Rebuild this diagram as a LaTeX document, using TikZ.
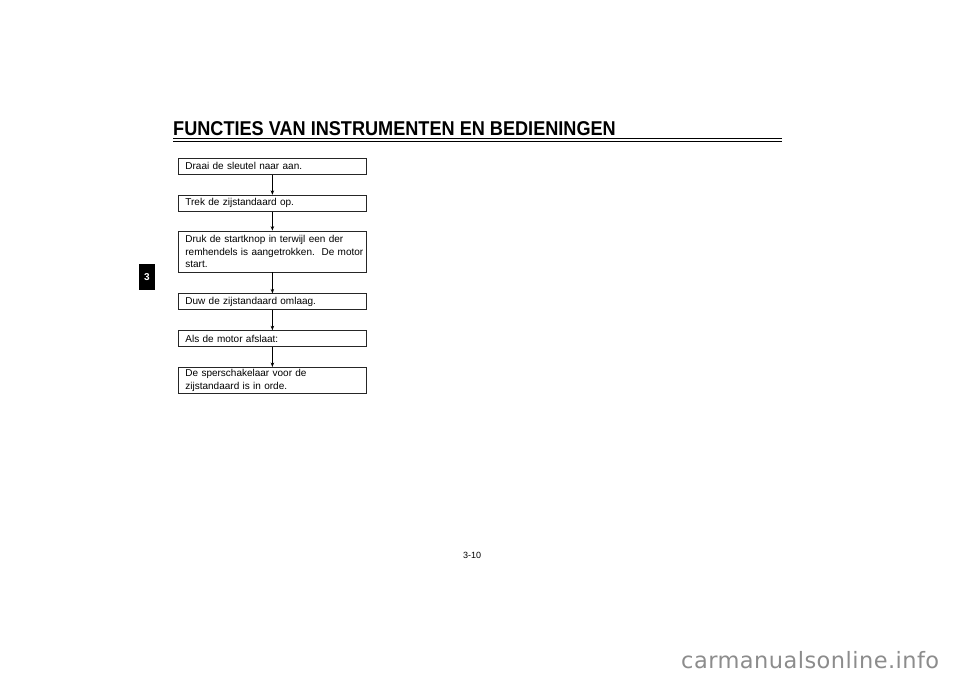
\documentclass[tikz,border=0pt]{standalone}
\usepackage{fontspec}
\setmainfont{Liberation Sans}
\newfontfamily\kopfont[FakeStretch=0.906]{Liberation Sans}
\newfontfamily\merkfont[LetterSpace=2]{DejaVu Sans}
\usetikzlibrary{positioning,arrows.meta}

\tikzset{
  stap/.style={draw=black!85, line width=0.8pt, minimum width=188pt, text width=174pt,
    inner xsep=7pt, inner ysep=1pt, align=left, font=\fontsize{10}{12.5}\selectfont},
  pijl/.style={line width=0.8pt, -{Stealth[length=4.5pt,width=3.5pt]}}
}

\begin{document}
\begin{tikzpicture}[x=1pt,y=1pt,node distance=20pt]
      \useasboundingbox (0,0) rectangle (960,-678);

      % kop met dubbele lijn
      \node[anchor=base west, inner sep=0pt, font=\kopfont\bfseries\fontsize{20}{24}\selectfont] (kop) at (173,-135)
        {FUNCTIES VAN INSTRUMENTEN EN BEDIENINGEN};
      \draw[line width=1.6pt] (173,-138.5)--(782,-138.5);
      \draw[line width=0.8pt] (173,-141.3)--(782,-141.3);

      % hoofdstuk
      \node[fill=black, minimum width=16pt, minimum height=26pt, inner sep=0pt, text=white,
        font=\bfseries\fontsize{10}{12}\selectfont] (hfst) at (147,-277) {3};

      % stappen
      \node[stap, anchor=north west, minimum height=16pt] (s1) at (178,-158) {Draai de sleutel naar aan.};
      \node[stap, below=of s1, minimum height=16pt] (s2) {Trek de zijstandaard op.};
      \node[stap, below=19pt of s2, minimum height=41pt] (s3) {Druk de startknop in terwijl een der\\
        \mbox{remhendels is aangetrokken.\ \ De motor}\\start.};
      \node[stap, below=21pt of s3, minimum height=16pt] (s4) {Duw de zijstandaard omlaag.};
      \node[stap, below=of s4, minimum height=16pt] (s5) {Als de motor afslaat:};
      \node[stap, below=of s5, minimum height=26pt] (s6) {De sperschakelaar voor de\\zijstandaard is in orde.};

      \draw[pijl] (s1)--(s2);
      \draw[pijl] (s2)--(s3);
      \draw[pijl] (s3)--(s4);
      \draw[pijl] (s4)--(s5);
      \draw[pijl] (s5)--(s6);

      % paginanummer
      \node[font=\fontsize{9}{11}\selectfont] (pag) at (472,-555) {3-10};

      \node[anchor=base west, inner sep=0pt, text=black!45, font=\merkfont\fontsize{22.5}{26}\selectfont] (merk) at (681,-668)
        {carmanualsonline.info};
    \end{tikzpicture}
\end{document}
